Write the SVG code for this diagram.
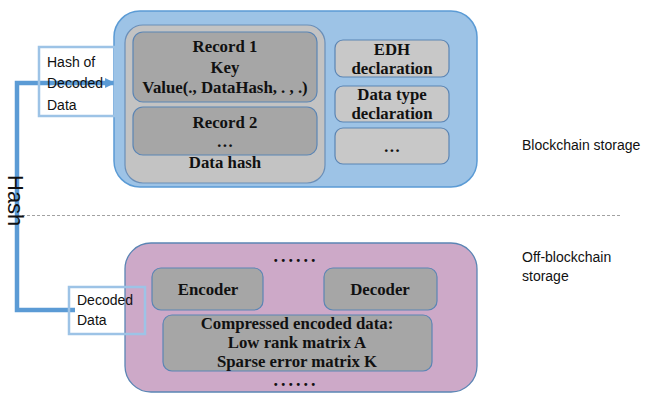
<svg xmlns="http://www.w3.org/2000/svg" width="649" height="394" viewBox="0 0 649 394">
<defs>
<style>
.serif{font-family:"Liberation Serif","Times New Roman",serif;font-weight:bold;font-size:16.8px;fill:#111;text-anchor:middle}
.dots{font-family:"Liberation Serif","Times New Roman",serif;font-weight:bold;font-size:18px;letter-spacing:3px;fill:#111;text-anchor:middle}
.sans{font-family:"Liberation Sans",Arial,sans-serif;font-size:14px;fill:#111}
.box{stroke:#5b85b4;stroke-width:1.2}
.lbl{fill:none;stroke:#9dc3e6;stroke-width:2.5}
.conn{fill:none;stroke:#5b9bd5;stroke-width:4.5;stroke-linejoin:miter}
</style>
<marker id="ah" viewBox="0 0 10 10" refX="9" refY="5" markerWidth="2.2" markerHeight="2.6" orient="auto" markerUnits="strokeWidth">
<path d="M0,0 L10,5 L0,10 z" fill="#5b9bd5"/>
</marker>
</defs>
<rect width="649" height="394" fill="#ffffff"/>

<g id="blockchain">
<rect x="114" y="11" width="363" height="176" rx="26" fill="#9dc3e6" stroke="#5b9bd5" stroke-width="1.5"/>
</g>
<g id="records">
<rect x="125" y="25" width="200" height="158" rx="18" fill="#c3c3c3" stroke="#6b8fb8" stroke-width="1.2"/>
<text class="serif" x="225" y="168">Data hash</text>
</g>
<g id="record1">
<rect class="box" x="133" y="32" width="184" height="70" rx="10" fill="#a6a6a6"/>
<text class="serif" x="225" y="52">Record 1</text>
<text class="serif" x="225" y="73">Key</text>
<text class="serif" x="225" y="93">Value(., DataHash, . , .)</text>
</g>
<g id="record2">
<rect class="box" x="133" y="107" width="184" height="48" rx="10" fill="#a6a6a6"/>
<text class="serif" x="225" y="128">Record 2</text>
<text class="serif" x="225" y="147">…</text>
</g>
<g id="edh">
<rect class="box" x="335" y="40" width="114" height="37" rx="8" fill="#c8c8c8"/>
<text class="serif" x="392" y="55">EDH</text>
<text class="serif" x="392" y="74">declaration</text>
</g>
<g id="datatype">
<rect class="box" x="335" y="86" width="114" height="36" rx="8" fill="#c8c8c8"/>
<text class="serif" x="392" y="100">Data type</text>
<text class="serif" x="392" y="119">declaration</text>
</g>
<g id="more">
<rect class="box" x="335" y="128" width="114" height="36" rx="8" fill="#c8c8c8"/>
<text class="serif" x="392" y="152">…</text>
</g>
<g id="blockchain-label">
<text class="sans" x="522" y="150">Blockchain storage</text>
</g>

<line x1="22" y1="215.5" x2="620" y2="215.5" stroke="#8a8a8a" stroke-width="0.8" stroke-dasharray="3,2"/>

<g id="offchain">
<rect x="125" y="243" width="352" height="149" rx="26" fill="#cda9c8" stroke="#5b85b4" stroke-width="1.3"/>
<text class="dots" x="296" y="262">......</text>
<text class="dots" x="296" y="386">......</text>
</g>
<g id="encoder">
<rect class="box" x="152" y="268" width="111" height="42" rx="9" fill="#a6a6a6"/>
<text class="serif" x="208" y="295">Encoder</text>
</g>
<g id="decoder">
<rect class="box" x="324" y="268" width="113" height="42" rx="9" fill="#a6a6a6"/>
<text class="serif" x="380" y="295">Decoder</text>
</g>
<g id="compressed">
<rect class="box" x="163" y="315" width="269" height="56" rx="9" fill="#a6a6a6"/>
<text class="serif" x="297" y="329">Compressed encoded data:</text>
<text class="serif" x="297" y="348">Low rank matrix A</text>
<text class="serif" x="297" y="367">Sparse error matrix K</text>
</g>
<g id="offchain-label">
<text class="sans" x="522" y="262">Off-blockchain</text>
<text class="sans" x="522" y="281">storage</text>
</g>

<g id="connectors">
<polyline class="conn" points="75,310 17,310 17,83 114,83" marker-end="url(#ah)"/>
<text class="sans" style="font-size:22px" transform="translate(8,175) rotate(90)">Hash</text>
</g>

<g id="hash-label">
<rect class="lbl" x="39" y="47" width="76" height="69"/>
<text class="sans" x="47" y="67">Hash of</text>
<text class="sans" x="47" y="88">Decoded</text>
<text class="sans" x="47" y="110">Data</text>
</g>
<g id="decoded-label">
<rect class="lbl" x="69" y="287" width="76" height="47"/>
<text class="sans" x="77" y="305">Decoded</text>
<text class="sans" x="77" y="325">Data</text>
</g>
</svg>
